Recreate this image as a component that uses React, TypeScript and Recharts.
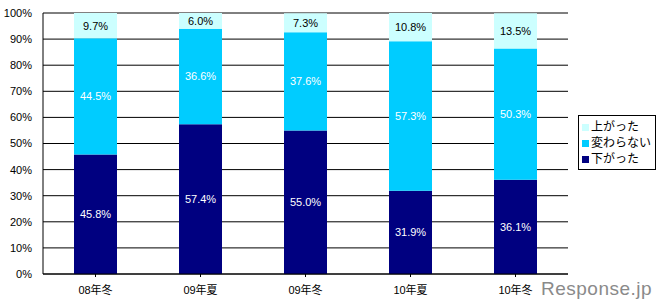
import { BarChart, Bar, XAxis, YAxis, CartesianGrid, LabelList } from 'recharts'

const periods = ['08年冬', '09年夏', '09年冬', '10年夏', '10年冬']
const wentDown = [45.8, 57.4, 55.0, 31.9, 36.1]
const unchanged = [44.5, 36.6, 37.6, 57.3, 50.3]
const wentUp = [9.7, 6.0, 7.3, 10.8, 13.5]
const yTicks = [0, 10, 20, 30, 40, 50, 60, 70, 80, 90, 100]

const legendItems = [
  { name: '上がった', color: '#CCFFFF' },
  { name: '変わらない', color: '#00CCFF' },
  { name: '下がった', color: '#000080' },
]

const data = periods.map((p, i) => ({
  period: p,
  down: wentDown[i],
  same: unchanged[i],
  up: wentUp[i],
}))

const fmt = (v: any) => `${Number(v).toFixed(1)}%`
const font = 'Arial, "Liberation Sans", "Noto Sans CJK JP", sans-serif'

export default function App() {
  return (
    <div style={{ position: 'absolute', left: 0, top: 0, width: 662, height: 307, background: '#fff', fontFamily: font }}>
      <BarChart
        width={662}
        height={307}
        data={data}
        margin={{ top: 13, right: 94, bottom: 0, left: 0 }}
        barSize={43}
      >
        <CartesianGrid horizontal vertical={false} stroke="#000" strokeWidth={1} />
        <XAxis
          dataKey="period"
          height={33}
          stroke="#000"
          tickSize={3}
          tick={{ fill: '#000', fontSize: 11, dy: 7, fontFamily: font }}
        />
        <YAxis
          width={43}
          domain={[0, 100]}
          ticks={yTicks}
          interval={0}
          tickFormatter={(v) => `${v}%`}
          stroke="#000"
          tickSize={0}
          tick={{ fill: '#000', fontSize: 11, dx: -9, fontFamily: font }}
        />
        <Bar dataKey="down" stackId="a" fill="#000080" isAnimationActive={false}>
          <LabelList dataKey="down" position="center" formatter={fmt} fill="#fff" fontSize={11} fontFamily={font} />
        </Bar>
        <Bar dataKey="same" stackId="a" fill="#00CCFF" isAnimationActive={false}>
          <LabelList dataKey="same" position="center" formatter={fmt} fill="#fff" fontSize={11} fontFamily={font} />
        </Bar>
        <Bar dataKey="up" stackId="a" fill="#CCFFFF" isAnimationActive={false}>
          <LabelList dataKey="up" position="center" formatter={fmt} fill="#000" fontSize={11} fontFamily={font} />
        </Bar>
      </BarChart>
      <div
        style={{
          position: 'absolute',
          left: 578,
          top: 115,
          width: 78,
          height: 55,
          border: '1px solid #000',
          background: '#fff',
          fontSize: 12,
          lineHeight: '16px',
          padding: '3px 0 0 3px',
          boxSizing: 'border-box',
          whiteSpace: 'nowrap',
        }}
      >
        {legendItems.map((it) => (
          <div key={it.name} style={{ display: 'flex', alignItems: 'center', height: 16 }}>
            <span style={{ display: 'inline-block', width: 7, height: 7, background: it.color, marginRight: 2, flexShrink: 0 }} />
            <span>{it.name}</span>
          </div>
        ))}
      </div>
      <div
        style={{
          position: 'absolute',
          left: 541,
          top: 278,
          fontSize: 19,
          color: '#8a8a8a',
          fontFamily: '"Liberation Sans", Arial, sans-serif',
          letterSpacing: 0.5,
        }}
      >
        Response.jp
      </div>
    </div>
  )
}
